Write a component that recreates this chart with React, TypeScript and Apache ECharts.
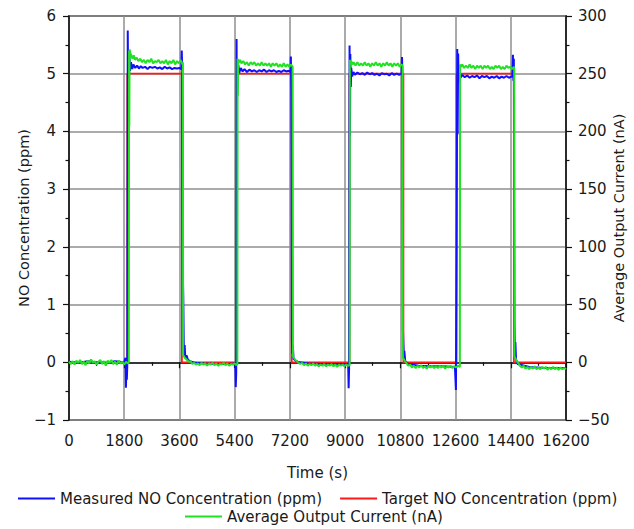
import React, { useEffect, useRef } from "react";
import * as echarts from "echarts";

// ---------- data (time in s) ----------
const xTicks = [0, 1800, 3600, 5400, 7200, 9000, 10800, 12600, 14400, 16200];
const leftTicks = [-1, 0, 1, 2, 3, 4, 5, 6];
const rightTicks = [-50, 0, 50, 100, 150, 200, 250, 300];

const seriesNames = [
  "Measured NO Concentration (ppm)",
  "Target NO Concentration (ppm)",
  "Average Output Current (nA)",
];

// Target NO concentration (ppm)
const targetNO: [number, number][] = [
  [0, 0], [1900, 0], [1900, 5], [3680, 5], [3680, 0],
  [5470, 0], [5470, 5], [7260, 5], [7260, 0],
  [9140, 0], [9140, 5], [10900, 5], [10900, 0],
  [12630, 0], [12630, 5], [14500, 5], [14500, 0], [16200, 0],
];

// Measured NO concentration (ppm)
const measuredNO: [number, number][] = [
  [0, 0.01], [300, -0.01], [600, 0.02], [900, 0.0], [1200, -0.01], [1500, 0.02], [1800, 0.0], [1840, 0.08],
  [1855, -0.44], [1870, -0.15], [1885, -0.3], [1900, -0.05],
  [1915, 5.75], [1925, 4.95], [1940, 5.4], [1955, 4.9], [1970, 5.3], [1990, 5.05], [2020, 5.2], [2060, 5.08],
  [2100, 5.16], [2160, 5.1], [2220, 5.14], [2280, 5.09], [2340, 5.13], [2400, 5.1], [2480, 5.12], [2560, 5.08],
  [2640, 5.12], [2720, 5.1], [2800, 5.12], [2880, 5.09], [2960, 5.11], [3040, 5.08], [3120, 5.12], [3200, 5.09],
  [3280, 5.11], [3360, 5.08], [3440, 5.1], [3520, 5.09], [3600, 5.1], [3660, 5.08], [3675, 5.4], [3690, 5.1],
  [3705, 2.87], [3715, 1.41], [3725, 1.12], [3740, 0.36], [3755, 0.12], [3770, 0.3], [3790, 0.08], [3830, 0.12],
  [3880, 0.04], [3950, 0.02], [4100, -0.01], [4400, -0.02], [4800, -0.03], [5200, -0.03], [5420, -0.02],
  [5435, -0.43], [5450, -0.2],
  [5462, 5.6], [5472, 4.27], [5485, 5.25], [5500, 4.8], [5520, 5.15], [5550, 5.02], [5600, 5.1], [5660, 5.04],
  [5720, 5.08], [5800, 5.03], [5880, 5.07], [5960, 5.04], [6040, 5.06], [6120, 5.03], [6200, 5.06], [6280, 5.04],
  [6360, 5.07], [6440, 5.03], [6520, 5.06], [6600, 5.04], [6680, 5.06], [6760, 5.03], [6840, 5.05], [6920, 5.03],
  [7000, 5.06], [7080, 5.04], [7160, 5.05], [7220, 5.03], [7232, 5.3], [7245, 4.73], [7255, 3.45], [7265, 0.4],
  [7280, 0.15], [7295, 0.3], [7320, 0.06], [7380, 0.03], [7500, 0.0], [7800, -0.02], [8200, -0.03], [8600, -0.03],
  [9000, -0.04], [9100, -0.03],
  [9115, -0.45], [9130, -0.1],
  [9145, 5.49], [9158, 3.92], [9170, 5.34], [9185, 4.77], [9200, 5.1], [9230, 4.95], [9270, 5.03], [9320, 4.98],
  [9400, 5.02], [9480, 4.99], [9560, 5.01], [9640, 4.98], [9720, 5.02], [9800, 4.99], [9880, 5.01], [9960, 4.98],
  [10040, 5.0], [10120, 4.97], [10200, 5.01], [10280, 4.99], [10360, 5.0], [10440, 4.97], [10520, 5.01],
  [10600, 4.98], [10680, 5.0], [10760, 4.98], [10840, 5.0], [10855, 5.29], [10870, 4.9], [10885, 0.57],
  [10900, 0.3], [10915, 0.12], [10930, 0.2], [10960, 0.02], [11050, -0.03], [11400, -0.06], [11800, -0.07],
  [12200, -0.07], [12580, -0.08],
  [12612, -0.48], [12635, 2.0], [12655, 5.43], [12668, 3.95], [12685, 5.35], [12700, 4.85], [12725, 5.02],
  [12760, 4.93], [12820, 4.98], [12900, 4.94], [12980, 4.97], [13060, 4.93], [13140, 4.96], [13220, 4.94],
  [13300, 4.97], [13380, 4.92], [13460, 4.96], [13540, 4.94], [13620, 4.96], [13700, 4.92], [13780, 4.95],
  [13860, 4.93], [13940, 4.96], [14020, 4.92], [14100, 4.95], [14180, 4.93], [14260, 4.96], [14340, 4.93],
  [14420, 4.95], [14450, 4.95], [14470, 5.33], [14485, 4.88], [14500, 5.26], [14520, 0.68], [14535, 0.22],
  [14550, 0.35], [14570, 0.05], [14620, -0.03], [15000, -0.08], [15500, -0.1], [16000, -0.1], [16200, -0.1],
];

// Average output current (nA)
const outputCurrent: [number, number][] = [
  [0, 0.5], [60, -1.5], [120, 1], [180, -2], [240, 1.5], [300, -0.5], [360, 2], [420, -1.5], [480, 0.5],
  [540, -2.5], [600, 1.5], [660, -1], [720, 2.5], [780, -0.5], [840, 1], [900, -2], [960, 0.5], [1020, 2],
  [1080, -1.5], [1140, 1], [1200, -3], [1260, 1.5], [1320, -0.5], [1380, 2], [1440, -1.5], [1500, 0.5],
  [1560, -2], [1620, 1.5], [1680, -1], [1740, 0.5], [1800, -2], [1860, 0.5], [1920, -1], [1950, 0],
  [1958, 270], [1966, 205], [1975, 271], [1995, 268], [2030, 266], [2070, 263], [2110, 266], [2150, 262],
  [2200, 264], [2260, 261], [2320, 263], [2380, 260], [2440, 262], [2500, 259], [2560, 262], [2620, 260],
  [2680, 263], [2740, 259], [2800, 261], [2860, 260], [2920, 262], [2980, 259], [3040, 261], [3100, 259],
  [3160, 262], [3220, 258], [3280, 261], [3340, 259], [3400, 262], [3460, 258], [3520, 261], [3580, 259],
  [3640, 262], [3700, 258], [3712, 260],
  [3720, 6], [3760, 4.5], [3800, 3], [3850, 2], [3900, 0.5], [3960, 1], [4020, -1.5], [4080, -0.5], [4140, -2],
  [4200, -1], [4260, -2.5], [4320, -0.5], [4380, -2], [4440, -1], [4500, -3], [4560, -1], [4620, -2],
  [4680, -0.5], [4740, -2.5], [4800, -1], [4860, -3], [4920, -1.5], [4980, -2], [5040, -0.5], [5100, -2.5],
  [5160, -1], [5220, -3], [5280, -1.5], [5340, -2], [5400, -1], [5460, -2.5], [5488, -1.5],
  [5495, 263], [5505, 231], [5515, 262], [5540, 260], [5580, 262], [5620, 259], [5680, 261], [5740, 258],
  [5800, 260], [5860, 257], [5920, 260], [5980, 258], [6040, 260], [6100, 257], [6160, 259], [6220, 257],
  [6280, 260], [6340, 257], [6400, 259], [6460, 257], [6520, 259], [6580, 256], [6640, 259], [6700, 257],
  [6760, 259], [6820, 256], [6880, 258], [6940, 256], [7000, 259], [7060, 256], [7120, 258], [7180, 256],
  [7240, 258], [7290, 256],
  [7300, 5], [7340, 3.5], [7380, 2], [7430, 1], [7480, -0.5], [7540, -1.5], [7600, -0.5], [7660, -2.5],
  [7720, -1], [7780, -3], [7840, -1.5], [7900, -2.5], [7960, -1], [8020, -3], [8080, -1.5], [8140, -3.5],
  [8200, -2], [8260, -3], [8320, -1.5], [8380, -3.5], [8440, -2], [8500, -3], [8560, -1.5], [8620, -3.5],
  [8680, -2], [8740, -4], [8800, -2], [8860, -3], [8920, -2], [8980, -3.5], [9040, -2], [9100, -3], [9148, -2.5],
  [9155, 262], [9170, 258], [9200, 261], [9240, 258], [9280, 260], [9340, 257], [9400, 260], [9460, 257],
  [9520, 259], [9580, 257], [9640, 260], [9700, 257], [9760, 259], [9820, 256], [9880, 259], [9940, 257],
  [10000, 260], [10060, 257], [10120, 259], [10180, 256], [10240, 259], [10300, 257], [10360, 260],
  [10420, 257], [10480, 259], [10540, 256], [10600, 259], [10660, 257], [10720, 259], [10780, 256],
  [10840, 258], [10875, 257],
  [10882, 4], [10920, 2.5], [10960, 0.5], [11010, -1], [11060, -3], [11120, -2], [11180, -4.5], [11240, -3],
  [11300, -5], [11360, -3], [11420, -4.5], [11480, -2.5], [11540, -5], [11600, -3.5], [11660, -5.5],
  [11720, -3], [11780, -4.5], [11840, -3], [11900, -5], [11960, -3.5], [12020, -5], [12080, -3], [12140, -4.5],
  [12200, -3], [12260, -5.5], [12320, -3.5], [12380, -4.5], [12440, -3], [12500, -5], [12560, -3.5],
  [12620, -4.5], [12680, -3], [12740, -4],
  [12748, 258], [12780, 256], [12820, 258], [12880, 255], [12940, 257], [13000, 255], [13060, 258],
  [13120, 255], [13180, 257], [13240, 254], [13300, 257], [13360, 255], [13420, 257], [13480, 254],
  [13540, 257], [13600, 255], [13660, 257], [13720, 254], [13780, 256], [13840, 254], [13900, 257],
  [13960, 255], [14020, 257], [14080, 254], [14140, 256], [14200, 254], [14260, 257], [14320, 255],
  [14380, 256], [14440, 254], [14500, 256], [14512, 255],
  [14520, 5], [14560, 3], [14600, 1], [14650, -1], [14700, -3], [14760, -4.5], [14820, -3], [14880, -5.5],
  [14940, -4], [15000, -6], [15060, -4], [15120, -5.5], [15180, -3.5], [15240, -6], [15300, -4.5],
  [15360, -6], [15420, -4], [15480, -5.5], [15540, -4], [15600, -6.5], [15660, -4.5], [15720, -6],
  [15780, -4], [15840, -6], [15900, -4.5], [15960, -6.5], [16020, -4.5], [16080, -6], [16140, -5], [16200, -6],
];

const FONT = "'DejaVu Sans', sans-serif";
const TEXT = "#1a1a1a";
const AXIS = "#111111";
const GRID = "#8f8f8f";
const minus = (v: number) => String(v).replace("-", "\u2212");

export default function App() {
  const ref = useRef<HTMLDivElement>(null);
  useEffect(() => {
    if (!ref.current) return;
    const chart = echarts.init(ref.current, undefined, { renderer: "svg" });
    const axisCommon = {
      axisLine: { show: true, lineStyle: { color: AXIS, width: 1.5 } },
      axisTick: { show: true, inside: false, length: 6, lineStyle: { color: AXIS, width: 1.2 } },
      minorTick: { show: true, splitNumber: 2, length: 3.5, lineStyle: { color: AXIS, width: 1.2 } },
      nameMoveOverlap: false,
    };
    const labelStyle = { fontFamily: FONT, fontSize: 15, color: TEXT };
    const nameStyle = { fontFamily: FONT, fontSize: 14.5, color: TEXT };
    chart.setOption({
      animation: false,
      backgroundColor: "#ffffff",
      grid: {
        left: 69, right: 68, top: 16, bottom: 109,
        outerBoundsMode: "none",
        containLabel: false,
        show: true, borderColor: AXIS, borderWidth: 1.5, backgroundColor: "transparent",
      },
      legend: [
        {
          data: [seriesNames[0], seriesNames[1]],
          left: 18, top: 491, padding: 0, itemGap: 18,
          itemWidth: 37, itemHeight: 2, icon: "rect",
          textStyle: { fontFamily: FONT, fontSize: 15, color: TEXT },
          selectedMode: false,
        },
        {
          data: [seriesNames[2]],
          left: 185, top: 509, padding: 0,
          itemWidth: 37, itemHeight: 2, icon: "rect",
          textStyle: { fontFamily: FONT, fontSize: 15, color: TEXT },
          selectedMode: false,
        },
      ],
      xAxis: {
        type: "value",
        min: xTicks[0], max: xTicks[xTicks.length - 1], interval: xTicks[1] - xTicks[0],
        name: "Time (s)", nameLocation: "middle", nameGap: 45,
        nameTextStyle: { ...labelStyle },
        ...axisCommon,
        axisLabel: { ...labelStyle, margin: 13, formatter: (v: number) => String(v) },
        splitLine: { show: true, lineStyle: { color: GRID, width: 1.5 } },
      },
      yAxis: [
        {
          type: "value", position: "left",
          min: leftTicks[0], max: leftTicks[leftTicks.length - 1], interval: 1,
          name: "NO Concentration (ppm)", nameLocation: "middle", nameGap: 38, nameRotate: 90,
          nameTextStyle: nameStyle,
          ...axisCommon,
          axisLabel: { ...labelStyle, margin: 13, formatter: minus },
          splitLine: { show: true, lineStyle: { color: GRID, width: 1.5 } },
        },
        {
          type: "value", position: "right",
          min: rightTicks[0], max: rightTicks[rightTicks.length - 1], interval: 50,
          name: "Average Output Current (nA)", nameLocation: "middle", nameGap: 45, nameRotate: 90,
          nameTextStyle: nameStyle,
          ...axisCommon,
          axisLabel: { ...labelStyle, margin: 12, formatter: minus },
          splitLine: { show: false },
        },
      ],
      series: [
        {
          name: seriesNames[1], type: "line", data: targetNO, yAxisIndex: 0,
          showSymbol: false, symbol: "none", silent: true,
          lineStyle: { color: "#ff1a1a", width: 1.8 }, itemStyle: { color: "#ff1a1a" }, z: 2,
        },
        {
          name: seriesNames[0], type: "line", data: measuredNO, yAxisIndex: 0,
          showSymbol: false, symbol: "none", silent: true,
          lineStyle: { color: "#1010ff", width: 2 }, itemStyle: { color: "#1010ff" }, z: 3,
        },
        {
          name: seriesNames[2], type: "line", data: outputCurrent, yAxisIndex: 1,
          showSymbol: false, symbol: "none", silent: true,
          lineStyle: { color: "#22e022", width: 2 }, itemStyle: { color: "#22e022" }, z: 4,
        },
      ],
    });
    return () => chart.dispose();
  }, []);
  return (
    <div
      ref={ref}
      style={{ position: "fixed", left: 0, top: 0, width: 634, height: 529, background: "#fff" }}
    />
  );
}
